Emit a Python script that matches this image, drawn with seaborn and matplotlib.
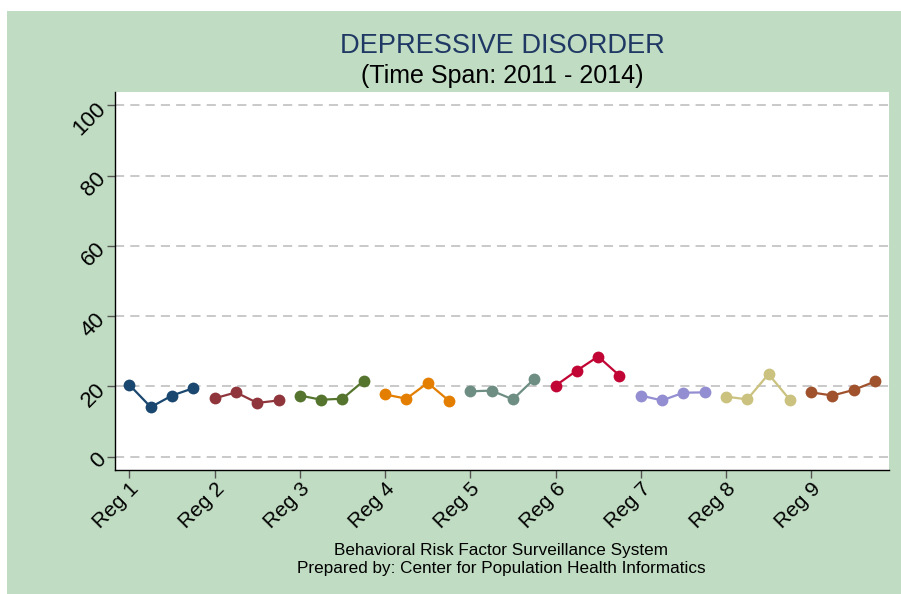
import matplotlib
matplotlib.use("Agg")
import matplotlib.pyplot as plt
from matplotlib.patches import Rectangle
import seaborn as sns
import pandas as pd

regions = ["Reg 1", "Reg 2", "Reg 3", "Reg 4", "Reg 5", "Reg 6", "Reg 7", "Reg 8", "Reg 9"]
years = [2011, 2012, 2013, 2014]
reg1 = [20.4, 14.1, 17.4, 19.5]
reg2 = [16.6, 18.3, 15.3, 16.0]
reg3 = [17.4, 16.2, 16.5, 21.6]
reg4 = [17.7, 16.5, 21.0, 15.9]
reg5 = [18.6, 18.8, 16.3, 22.1]
reg6 = [20.2, 24.5, 28.5, 23.1]
reg7 = [17.4, 16.0, 18.2, 18.3]
reg8 = [17.1, 16.3, 23.5, 16.2]
reg9 = [18.3, 17.4, 19.0, 21.4]
values = [reg1, reg2, reg3, reg4, reg5, reg6, reg7, reg8, reg9]
colors = ["#1a476f", "#90353b", "#55752f", "#e37e00", "#6e8e84",
          "#c10534", "#938dd2", "#cac27e", "#a0522d"]
yticks = [0, 20, 40, 60, 80, 100]

rows = []
for i, (r, vals) in enumerate(zip(regions, values)):
    for j, (yr, v) in enumerate(zip(years, vals)):
        rows.append({"region": r, "year": yr, "x": i + 1 + j * 0.25, "val": v})
df = pd.DataFrame(rows)

sns.set_style("white")
plt.rcParams["font.family"] = ["Liberation Sans", "DejaVu Sans"]
plt.rcParams["text.color"] = "black"
plt.rcParams["xtick.color"] = "black"
plt.rcParams["ytick.color"] = "black"

fig = plt.figure(figsize=(9.01, 5.94), dpi=100)
fig.patch.set_facecolor("white")
W, H = 901, 594
fig.patches.append(Rectangle((7 / W, 0), 1 - 7 / W, (H - 11) / H,
                             transform=fig.transFigure, facecolor="#c0dcc2",
                             edgecolor="none", zorder=-10))

left, right, top, bottom = 115, 889, 92, 470
ax = fig.add_axes([left / W, 1 - bottom / H, (right - left) / W, (bottom - top) / H])
ax.set_facecolor("white")

sns.lineplot(data=df, x="x", y="val", hue="region", palette=colors, marker="o",
             markersize=8.5, markeredgewidth=0, linewidth=1.6, legend=False, ax=ax,
             estimator=None, sort=False)

ax.set_xlim(0.83, 9.914)
ax.set_ylim(-3.8, 103.8)
ax.set_yticks(yticks)
ax.set_yticklabels([str(t) for t in yticks], rotation=45, fontsize=16,
                   ha="right", va="center", rotation_mode="anchor", color="black")
ax.set_xticks(range(1, 10))
ax.set_xticklabels(regions, rotation=45, fontsize=15, ha="right", va="top",
                   rotation_mode="anchor", color="black")
for t in yticks:
    ax.axhline(t, color="#bbbbbb", linestyle=(0, (6, 4)), linewidth=1.1, zorder=0)
ax.tick_params(axis="both", direction="out", length=6, width=1, color="#555555",
               pad=3, bottom=True, left=True)
ax.tick_params(axis="x", pad=0.5)
ax.set_xlabel("")
ax.set_ylabel("")
for s in ["top", "right"]:
    ax.spines[s].set_visible(False)
for s in ["left", "bottom"]:
    ax.spines[s].set_color("black")
    ax.spines[s].set_linewidth(1.0)

cx = (left + right) / 2 / W
fig.text(cx, 1 - 46 / H, "DEPRESSIVE DISORDER", ha="center", va="center",
         fontsize=19.6, color="#1f3864")
fig.text(cx, 1 - 76 / H, "(Time Span: 2011 - 2014)", ha="center", va="center",
         fontsize=18, color="black")
fig.text(cx - 1 / W, 1 - 551 / H, "Behavioral Risk Factor Surveillance System",
         ha="center", va="center", fontsize=12.3, color="black")
fig.text(cx - 1 / W, 1 - 568.5 / H, "Prepared by: Center for Population Health Informatics",
         ha="center", va="center", fontsize=12.3, color="black")

fig.savefig("out.png", dpi=100)
